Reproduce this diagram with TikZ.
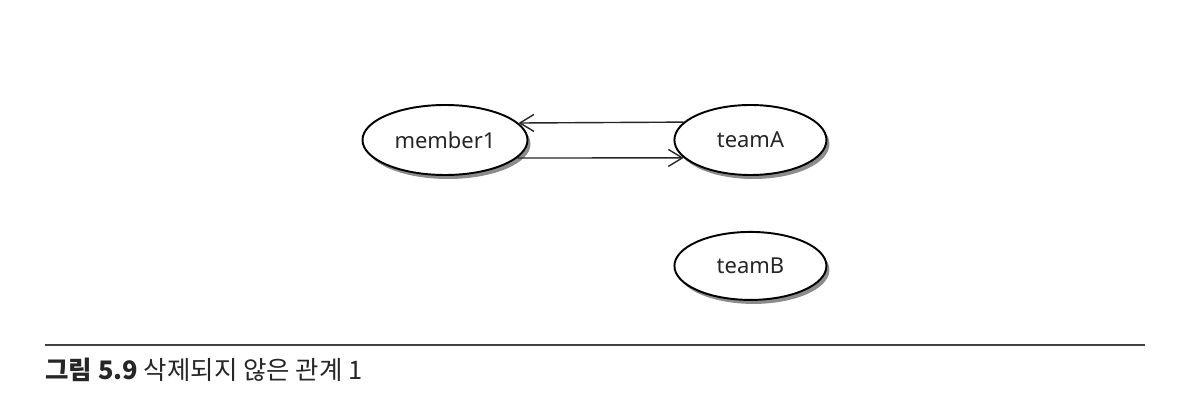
\documentclass[tikz,border=0pt]{standalone}
\usepackage{fontspec}
\setmainfont{Noto Sans}
\newfontfamily\kofont{Noto Sans CJK KR}
\usepackage{tikz}
\usetikzlibrary{positioning}
\usetikzlibrary{shapes.geometric}
\usetikzlibrary{shadows}
\usetikzlibrary{arrows.meta}

\begin{document}
\begin{tikzpicture}

    \def\gap{2.9cm}

    % looks of the objects and of the references between them
    \tikzset{
        entity/.style={ellipse, draw, line width=1.1pt, fill=white,
            minimum width=3.04cm, minimum height=1.4cm, inner sep=0pt,
            text=black!85, font=\fontsize{12.5}{14}\selectfont,
            drop shadow={shadow xshift=0.06cm, shadow yshift=-0.08cm,
                opacity=0.6, fill=black!75}},
        ref/.style={line width=0.8pt, black!85,
            -{Straight Barb[length=2.8mm, width=3.4mm]}}
    }

    \useasboundingbox (0, 0) rectangle (24.08, 8.2);

    % objects in memory
    \node[entity, minimum width=3.3cm] (member1) at (8.9, 5.4) {member1};
    \node[entity] (teamA) [right=\gap of member1] {teamA};
    \node[entity, minimum height=1.36cm] (teamB) [below=1.1cm of teamA]
    {teamB};

    % references
    \draw[ref] (teamA.165.65) -- (member1.13.27);
    \draw[ref] (member1.-14.27) -- (teamA.195.44);

    % caption
    \coordinate (ruleL) at (0.9, 1.3);
    \coordinate (ruleR) at (22.9, 1.3);
    \draw[line width=0.7pt, black!75] (ruleL) -- (ruleR);
    \node[anchor=base west, inner sep=0pt, text=black!85,
        font=\kofont\fontsize{14.5}{17}\selectfont] (caption) at (0.9, 0.6)
    {{\bfseries 그림 5.9} 삭제되지 않은 관계 1};

\end{tikzpicture}
\end{document}
